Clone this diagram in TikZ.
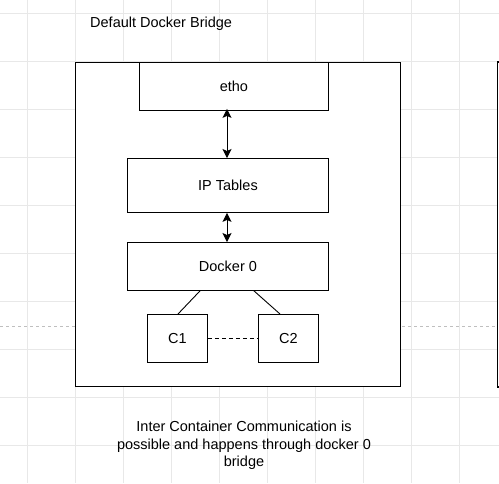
\documentclass[tikz,border=0pt]{standalone}
\usepackage{fontspec}
\setmainfont{Liberation Sans}
\usetikzlibrary{arrows.meta}
\begin{document}
\begin{tikzpicture}[x=1pt,y=-1pt,
  gridline/.style={draw=black!9,line width=0.8pt},
  box/.style={draw=black,fill=white,line width=0.9pt,inner sep=0pt,font=\fontsize{14.5}{17}\selectfont},
  link/.style={draw=black,line width=0.9pt},
  biarrow/.style={link,{Stealth[length=9pt,width=9pt,inset=2pt]}-{Stealth[length=9pt,width=9pt,inset=2pt]}},
  lbl/.style={inner sep=0pt,font=\fontsize{14.5}{17.5}\selectfont,align=center}]
\useasboundingbox (0,0) rectangle (499,483);
\fill[white] (0,0) rectangle (499,483);
% grid
\foreach \gx in {27,75,...,499} \draw[gridline] (\gx,0) -- (\gx,483);
\foreach \gy in {13,61,...,483} \draw[gridline] (0,\gy) -- (499,\gy);
% dashed guide
\draw[draw=black!25,dashed,line width=0.7pt] (0,326) -- (499,326);
% right neighbour box edge
\draw[line width=1.2pt,fill=white] (497.5,62) rectangle (560,387);
% main box
\node[box,minimum width=325pt,minimum height=324pt,anchor=north west] (main) at (75,62) {};
\node[box,minimum width=189pt,minimum height=48pt,anchor=north west] (etho) at (139,62) {etho};
\node[box,minimum width=201pt,minimum height=54pt,anchor=north west] (ipt) at (127,158) {IP Tables};
\node[box,minimum width=201pt,minimum height=48pt,anchor=north west] (dock) at (127,242) {Docker 0};
\node[box,minimum width=60pt,minimum height=48pt,anchor=north west] (c1) at (147,314) {C1};
\node[box,minimum width=60pt,minimum height=48pt,anchor=north west] (c2) at (258,314) {C2};
% connectors
\draw[biarrow] ([yshift=2pt]etho.south -| 227,0) -- (ipt.north -| 227,0);
\draw[biarrow] (ipt.south -| 227,0) -- (dock.north -| 227,0);
\draw[link] (dock.south -| 200,0) -- (c1.north -| 178,0);
\draw[link] (dock.south -| 254,0) -- (c2.north -| 280,0);
\draw[link,dashed,dash pattern=on 4pt off 3pt] (c1.east) -- (c2.west);
% texts
\node[lbl,anchor=west] (title) at (90,24) {Default Docker Bridge};
\node[lbl,anchor=north] (note) at (244,421) {Inter Container Communication is\\possible and happens through docker 0\\bridge};
\end{tikzpicture}
\end{document}
